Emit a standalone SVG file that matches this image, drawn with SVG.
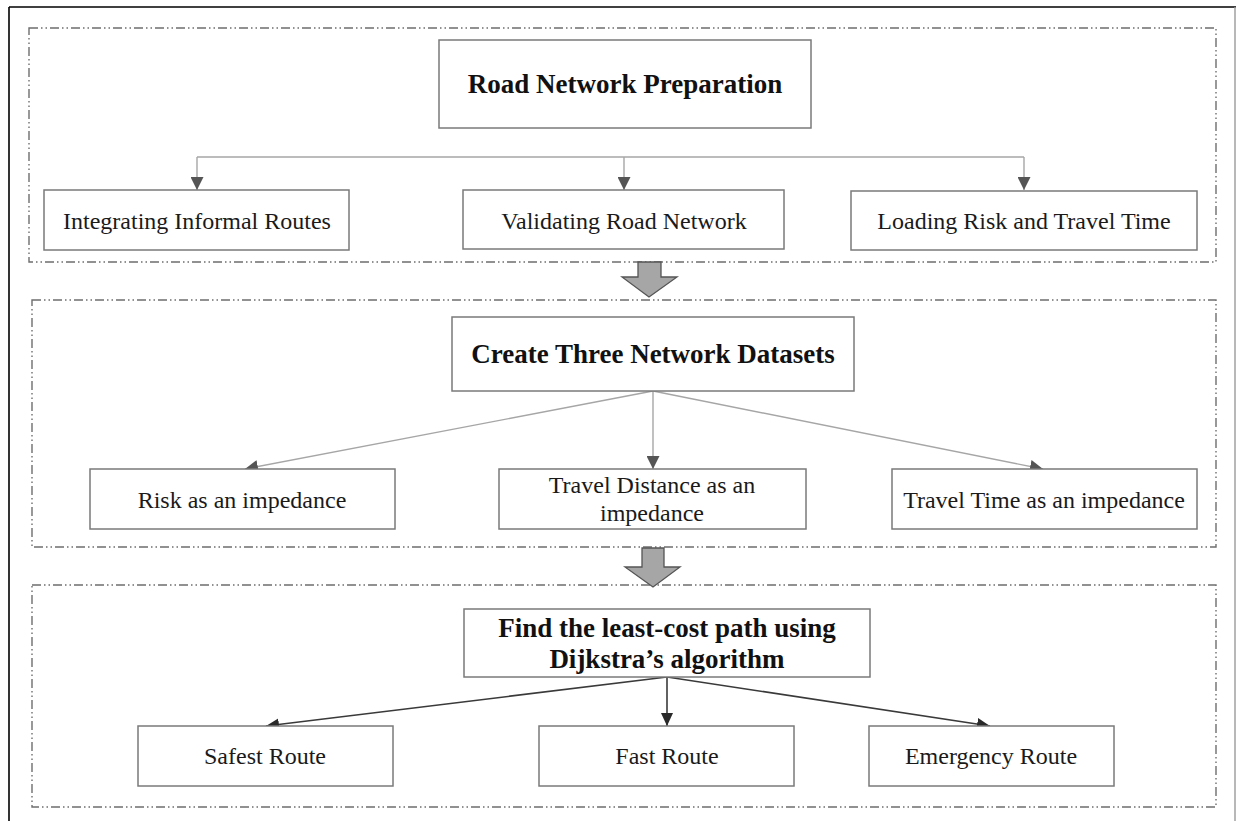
<svg xmlns="http://www.w3.org/2000/svg" width="1237" height="821" viewBox="0 0 1237 821">
<defs>
<style>
.frame{fill:none;stroke:#000;stroke-width:1.6}
.panel{fill:none;stroke:#6e6e6e;stroke-width:1.4;stroke-dasharray:9 3 1.5 3 1.5 3}
.box{fill:#fff;stroke:#7a7a7a;stroke-width:1.5}
.t{font-family:"Liberation Serif","Times New Roman",serif;font-size:24px;fill:#1a1a1a;text-anchor:middle}
.b{font-weight:bold;font-size:27px;fill:#111}
.c1{fill:none;stroke:#a6a6a6;stroke-width:1.4}
.c3{fill:none;stroke:#3a3a3a;stroke-width:1.6}
.big{fill:#a6a6a6;stroke:#555;stroke-width:1.3}
</style>
<marker id="ah1" markerUnits="userSpaceOnUse" markerWidth="13" markerHeight="13" refX="13" refY="6.5" orient="auto">
<path d="M0,0 L13,6.5 L0,13 z" fill="#555"/>
</marker>
<marker id="ah3" markerUnits="userSpaceOnUse" markerWidth="13" markerHeight="13" refX="13" refY="6.5" orient="auto">
<path d="M0,0.5 L13,6.5 L0,12.5 z" fill="#2a2a2a"/>
</marker>
</defs>
<rect width="1237" height="821" fill="#fff"/>
<g id="frame">
<line class="frame" x1="9" y1="7" x2="1236" y2="7"/>
<line class="frame" x1="9" y1="7" x2="9" y2="821"/>
<line x1="1235" y1="7" x2="1235" y2="821" stroke="#9a9a9a" stroke-width="1.4"/>
</g>
<g id="panels">
<rect class="panel" x="29" y="28" width="1187" height="234"/>
<rect class="panel" x="32" y="300" width="1184" height="247"/>
<rect class="panel" x="32" y="585" width="1184" height="222"/>
</g>
<g id="connectors">
<path class="c1" d="M197,157 H1024"/>
<path class="c1" d="M197,157 V190" marker-end="url(#ah1)"/>
<path class="c1" d="M624,157 V190" marker-end="url(#ah1)"/>
<path class="c1" d="M1024,157 V190" marker-end="url(#ah1)"/>
<path class="c1" d="M653,391 L245,469" marker-end="url(#ah1)"/>
<path class="c1" d="M653,391 V469" marker-end="url(#ah1)"/>
<path class="c1" d="M653,391 L1043,469" marker-end="url(#ah1)"/>
<path class="c3" d="M667,677 L266,726" marker-end="url(#ah3)"/>
<path class="c3" d="M667,677 V726" marker-end="url(#ah3)"/>
<path class="c3" d="M667,677 L990,726" marker-end="url(#ah3)"/>
<path id="flow1" class="big" d="M638,262 H661 V277 H677 L649,297 L622,277 H638 Z"/>
<path id="flow2" class="big" d="M642,548 H664 V567 H680 L653,587 L625,567 H642 Z"/>
</g>
<g id="n-road">
<rect class="box" x="439" y="40" width="372" height="88"/>
<text class="t b" x="625" y="93">Road Network Preparation</text>
</g>
<g id="n-integrating">
<rect class="box" x="44" y="190" width="305" height="60"/>
<text class="t" x="197" y="229">Integrating Informal Routes</text>
</g>
<g id="n-validating">
<rect class="box" x="463" y="190" width="321" height="59"/>
<text class="t" x="624" y="229">Validating Road Network</text>
</g>
<g id="n-loading">
<rect class="box" x="851" y="191" width="346" height="59"/>
<text class="t" x="1024" y="229">Loading Risk and Travel Time</text>
</g>
<g id="n-create">
<rect class="box" x="452" y="317" width="402" height="74"/>
<text class="t b" x="653" y="363">Create Three Network Datasets</text>
</g>
<g id="n-risk">
<rect class="box" x="90" y="469" width="305" height="60"/>
<text class="t" x="242" y="508">Risk as an impedance</text>
</g>
<g id="n-distance">
<rect class="box" x="499" y="469" width="307" height="60"/>
<text class="t" x="652" y="493">Travel Distance as an</text>
<text class="t" x="652" y="521">impedance</text>
</g>
<g id="n-time">
<rect class="box" x="892" y="469" width="305" height="60"/>
<text class="t" x="1044" y="508">Travel Time as an impedance</text>
</g>
<g id="n-find">
<rect class="box" x="464" y="609" width="406" height="68"/>
<text class="t b" x="667" y="637">Find the least-cost path using</text>
<text class="t b" x="667" y="668">Dijkstra’s algorithm</text>
</g>
<g id="n-safest">
<rect class="box" x="138" y="726" width="255" height="60"/>
<text class="t" x="265" y="764">Safest Route</text>
</g>
<g id="n-fast">
<rect class="box" x="539" y="726" width="255" height="60"/>
<text class="t" x="667" y="764">Fast Route</text>
</g>
<g id="n-emergency">
<rect class="box" x="869" y="726" width="245" height="60"/>
<text class="t" x="991" y="764">Emergency Route</text>
</g>
</svg>
